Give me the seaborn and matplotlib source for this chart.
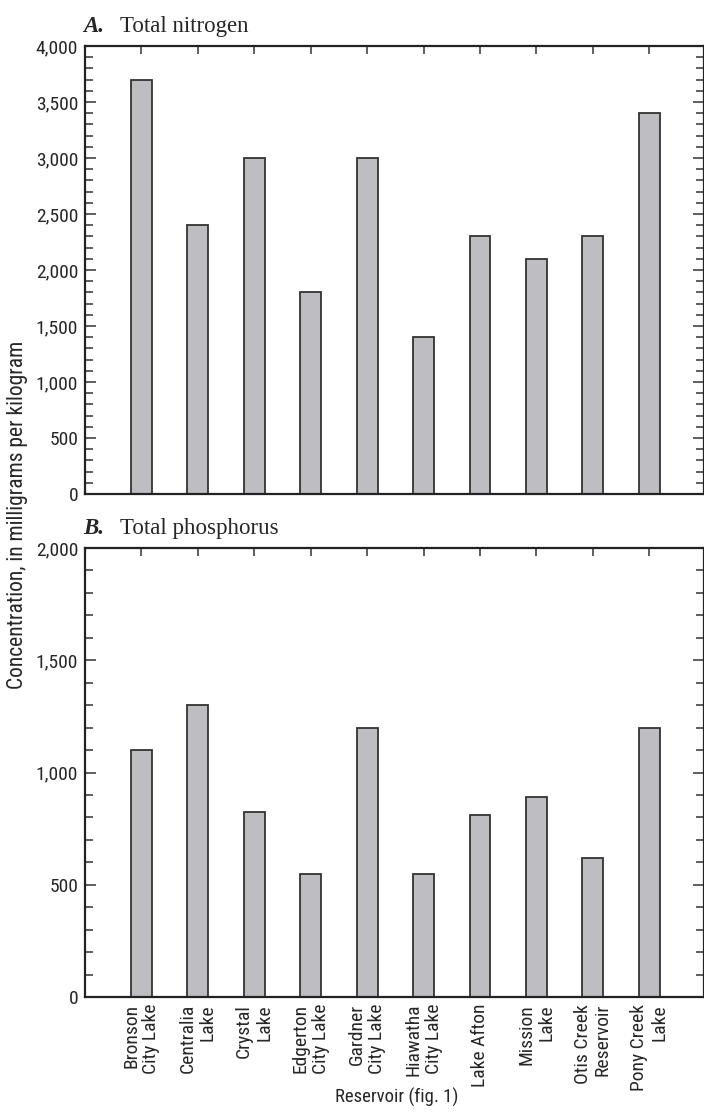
import matplotlib
matplotlib.use("Agg")
import matplotlib.pyplot as plt
from matplotlib import font_manager
from matplotlib.ticker import MultipleLocator, FuncFormatter
import seaborn as sns
import pandas as pd

reservoirs = [
    "Bronson\nCity Lake", "Centralia\nLake", "Crystal\nLake", "Edgerton\nCity Lake",
    "Gardner\nCity Lake", "Hiawatha\nCity Lake", "Lake Afton", "Mission\nLake",
    "Otis Creek\nReservoir", "Pony Creek\nLake",
]
nitrogen = [3700, 2400, 3000, 1800, 3000, 1400, 2300, 2100, 2300, 3400]
phosphorus = [1100, 1300, 825, 550, 1200, 550, 810, 890, 620, 1200]

installed = {f.name for f in font_manager.fontManager.ttflist}
narrow = next((n for n in ["Liberation Sans Narrow", "Roboto Condensed",
                           "DejaVu Sans Condensed", "Roboto"] if n in installed),
              "DejaVu Sans")

sns.set_style("ticks")
plt.rcParams["font.family"] = [narrow, "DejaVu Sans"]

fig = plt.figure(figsize=(7.04, 11.12), dpi=100)
ax_a = fig.add_axes([85 / 704, 1 - 494 / 1112, 619 / 704, 448 / 1112])
ax_b = fig.add_axes([85 / 704, 1 - 997 / 1112, 619 / 704, 449 / 1112])

bar_color = "#bebec2"
edge_color = "#333333"
comma = FuncFormatter(lambda v, p: f"{int(v):,}")
label_size = 14

panels = [
    (ax_a, nitrogen, 4000, "A.", "Total nitrogen"),
    (ax_b, phosphorus, 2000, "B.", "Total phosphorus"),
]
for ax, values, ymax, letter, title in panels:
    df = pd.DataFrame({"reservoir": reservoirs, "value": values})
    sns.barplot(data=df, x="reservoir", y="value", ax=ax, color=bar_color,
                width=0.37, edgecolor=edge_color, linewidth=1.3, saturation=1)
    ax.set_xlim(-1, 9.97)
    ax.set_ylim(0, ymax)
    ax.yaxis.set_major_locator(MultipleLocator(500))
    ax.yaxis.set_minor_locator(MultipleLocator(100))
    ax.yaxis.set_major_formatter(comma)
    ax.set_xlabel("")
    ax.set_ylabel("")
    for s in ax.spines.values():
        s.set_visible(True)
        s.set_linewidth(1.6)
        s.set_color("#222222")
    ax.tick_params(axis="x", which="major", direction="in", top=True, bottom=True,
                   length=6, width=1.1, color="#333333", labelsize=label_size)
    ax.tick_params(axis="y", which="major", direction="in", left=True, right=True,
                   length=8, width=1.1, color="#333333", labelsize=label_size, pad=5)
    ax.tick_params(axis="y", which="minor", direction="in", left=True, right=True,
                   length=5.5, width=1.1, color="#333333")
    # panel heading: bold italic letter followed by roman title
    pos = ax.get_position()
    ytxt = pos.y1 + 14 / 1112
    fig.text(pos.x0 - 2 / 704, ytxt, letter, fontfamily="Liberation Serif", fontsize=16.5,
             fontweight="bold", fontstyle="italic", va="baseline", ha="left")
    fig.text(pos.x0 + 35 / 704, ytxt, title, fontfamily="Liberation Serif",
             fontsize=16.5, va="baseline", ha="left")

ax_a.set_xticklabels([])
ax_b.set_xticklabels(reservoirs, rotation=90, ha="center", va="top",
                     multialignment="right", fontsize=label_size, linespacing=1.15)
ax_b.tick_params(axis="x", pad=5)

fig.text(397 / 704, 1 - 1097 / 1112, "Reservoir (fig. 1)", ha="center",
         va="center", fontsize=13.5)
fig.text(18 / 704, 1 - 515 / 1112, "Concentration, in milligrams per kilogram",
         rotation=90, ha="center", va="center", fontsize=15.5)

fig.savefig("out.png", dpi=100)
